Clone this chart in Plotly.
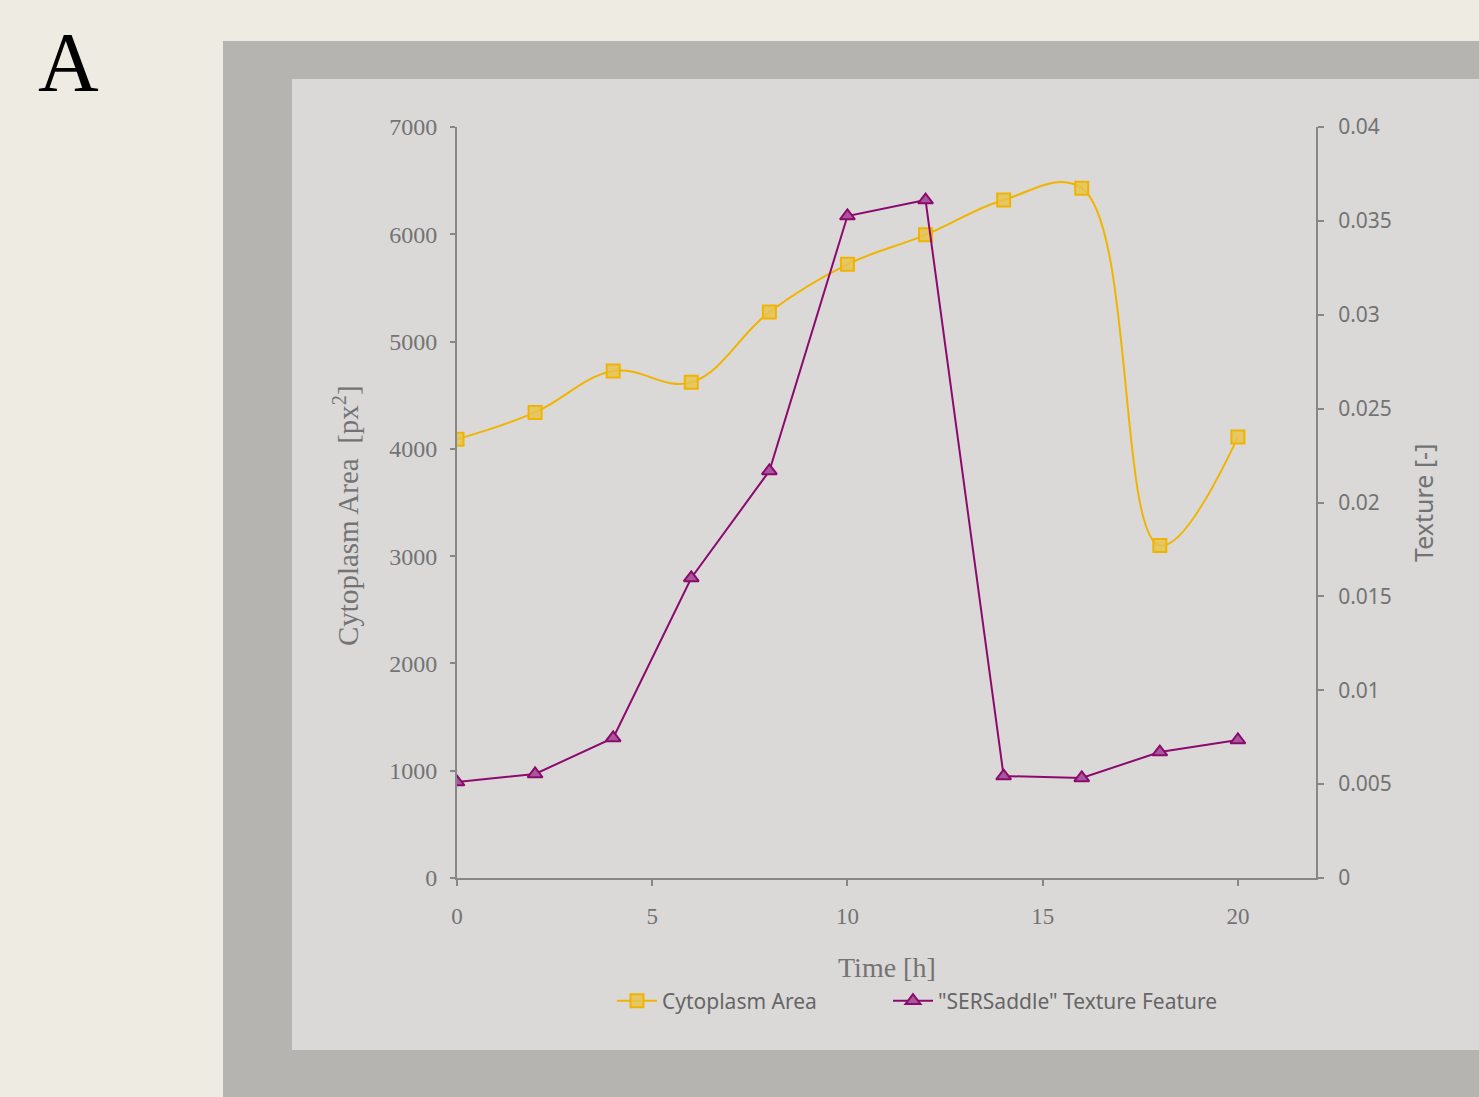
import plotly.graph_objects as go

time_h = [0, 2, 4, 6, 8, 10, 12, 14, 16, 18, 20]
cytoplasm_area = [4090, 4340, 4725, 4620, 5275, 5720, 5995, 6320, 6430, 3100, 4110]
texture_feature = [0.00511, 0.00554, 0.00746, 0.01598, 0.02168, 0.03526, 0.03611,
                   0.00543, 0.00533, 0.00671, 0.00735]

left_ticks = [0, 1000, 2000, 3000, 4000, 5000, 6000, 7000]
right_ticks = [0, 0.005, 0.01, 0.015, 0.02, 0.025, 0.03, 0.035, 0.04]
right_ticktext = ["0", "0.005", "0.01", "0.015", "0.02", "0.025", "0.03", "0.035", "0.04"]
x_ticks = [0, 5, 10, 15, 20]

W, H = 1479, 1097
L, R, T, B = 457, 1316, 127, 878
pw, ph = R - L, B - T

def px(x):
    return (x - L) / pw

def py(y):
    return (B - y) / ph

serif = "Liberation Serif, Times New Roman, serif"
sans = "Noto Sans, Open Sans, sans-serif"
axis_col = "#878787"
tick_col = "#737373"

fig = go.Figure()
fig.add_trace(go.Scatter(
    x=time_h, y=cytoplasm_area, name="Cytoplasm Area",
    mode="lines+markers",
    line=dict(color="#F0B400", width=2, shape="spline", smoothing=1.1),
    marker=dict(symbol="square", size=13, color="rgba(230,195,80,0.85)",
                line=dict(color="#F0B400", width=2)),
    yaxis="y", legend="legend"))
fig.add_trace(go.Scatter(
    x=time_h, y=texture_feature, name="\"SERSaddle\" Texture Feature",
    mode="lines+markers",
    line=dict(color="#8C0A6E", width=2),
    marker=dict(symbol="triangle-up", size=13, color="#A8589A",
                line=dict(color="#8C0A6E", width=2)),
    yaxis="y2", legend="legend2"))

leg_common = dict(orientation="h", yanchor="middle", xanchor="left",
                  font=dict(family=sans, size=21, color="#666666"),
                  bgcolor="rgba(0,0,0,0)", itemwidth=40)

fig.update_layout(
    width=W, height=H,
    margin=dict(l=L, r=W - R, t=T, b=H - B),
    paper_bgcolor="#EEEBE3",
    plot_bgcolor="#DAD9D8",
    showlegend=True,
    legend=dict(x=px(612), y=py(1001), **leg_common),
    legend2=dict(x=px(888), y=py(1001), **leg_common),
    xaxis=dict(range=[0, 22], tickvals=x_ticks, showgrid=False, zeroline=False,
               showline=True, linecolor=axis_col, linewidth=2,
               ticks="outside", ticklen=6, tickwidth=2, tickcolor=axis_col,
               tickfont=dict(family=serif, size=23, color=tick_col),
               ticklabelstandoff=10),
    yaxis=dict(range=[0, 7000], tickvals=left_ticks, showgrid=False, zeroline=False,
               showline=True, linecolor=axis_col, linewidth=2,
               ticks="outside", ticklen=5, tickwidth=2, tickcolor=axis_col,
               tickfont=dict(family=serif, size=24, color=tick_col),
               ticklabelstandoff=8),
    yaxis2=dict(range=[0, 0.04], tickvals=right_ticks, ticktext=right_ticktext,
                overlaying="y", side="right", showgrid=False, zeroline=False,
                showline=True, linecolor=axis_col, linewidth=2,
                ticks="outside", ticklen=6, tickwidth=2, tickcolor=axis_col,
                tickfont=dict(family=sans, size=21, color=tick_col),
                ticklabelstandoff=10),
    shapes=[
        dict(type="rect", xref="paper", yref="paper", layer="below",
             x0=px(223), x1=px(1600), y0=py(1200), y1=py(41),
             fillcolor="#B5B4B0", line=dict(width=0)),
        dict(type="rect", xref="paper", yref="paper", layer="below",
             x0=px(292), x1=px(1600), y0=py(1050), y1=py(79),
             fillcolor="#DAD9D8", line=dict(width=0)),
    ],
    annotations=[
        dict(text="A", xref="paper", yref="paper", x=px(68), y=py(62),
             xanchor="center", yanchor="middle", showarrow=False,
             font=dict(family=serif, size=84, color="#000000")),
        dict(text="Time [h]", xref="paper", yref="paper", x=px(887), y=py(967),
             xanchor="center", yanchor="middle", showarrow=False,
             font=dict(family=serif, size=28, color=tick_col)),
        dict(text="Cytoplasm Area  [px<sup>2</sup>]", xref="paper", yref="paper",
             x=px(346), y=py(516), xanchor="center", yanchor="middle", textangle=-90,
             showarrow=False, font=dict(family=serif, size=29, color=tick_col)),
        dict(text="Texture [-]", xref="paper", yref="paper",
             x=px(1423), y=py(503), xanchor="center", yanchor="middle", textangle=-90,
             showarrow=False, font=dict(family=sans, size=25, color=tick_col)),
    ],
)

fig.write_html("out.html", config={"displayModeBar": False},
               post_script="document.body.style.margin='0';document.body.style.padding='0';")
